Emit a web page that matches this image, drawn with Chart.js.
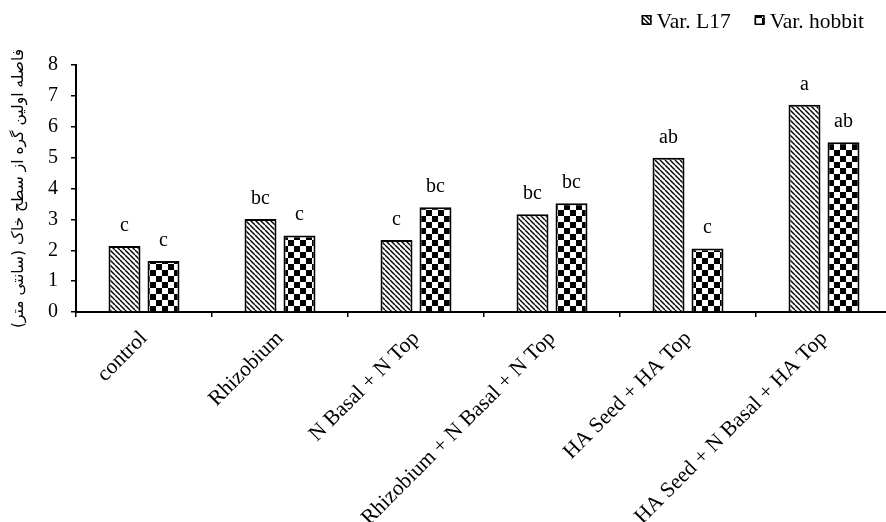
<!DOCTYPE html>
<html>
<head>
<meta charset="utf-8">
<script src="https://cdn.jsdelivr.net/npm/chart.js@4.4.1/dist/chart.umd.min.js"></script>
<style>
  html, body { margin: 0; padding: 0; overflow: hidden; background: #fff; }
  #wrap { width: 892px; height: 522px; }
</style>
</head>
<body>
<div id="wrap"><canvas id="chart"></canvas></div>
<script>
// Treatments and the two varieties
const treatments = ['control', 'Rhizobium', 'N Basal + N Top', 'Rhizobium + N Basal + N Top', 'HA Seed + HA Top', 'HA Seed + N Basal + HA Top'];
const l17Values = [2.14, 3.01, 2.33, 3.17, 5.0, 6.71];
const hobbitValues = [1.65, 2.48, 3.39, 3.52, 2.06, 5.5];
// Mean comparison letters shown above the bars
const l17Letters = ['c', 'bc', 'c', 'bc', 'ab', 'a'];
const hobbitLetters = ['c', 'c', 'bc', 'bc', 'c', 'ab'];
const seriesNames = ['Var. L17', 'Var. hobbit'];
const yTitle = 'فاصله اولین گره از سطح خاک (سانتی متر)';

const serif = '"Liberation Serif", "Times New Roman", serif';

// Diagonal hatch pattern (top-left to bottom-right)
function makeHatch() {
    const s = 5;
    const c = document.createElement('canvas');
    c.width = s; c.height = s;
    const g = c.getContext('2d');
    g.fillStyle = '#fff';
    g.fillRect(0, 0, s, s);
    g.strokeStyle = '#000';
    g.lineWidth = 1.4;
    [-s, 0, s].forEach(function (k) {
        g.beginPath();
        g.moveTo(k, 0);
        g.lineTo(k + s, s);
        g.stroke();
    });
    return g.createPattern(c, 'repeat');
}

// Checkerboard pattern
function makeChecker() {
    const q = 6;
    const c = document.createElement('canvas');
    c.width = q * 2; c.height = q * 2;
    const g = c.getContext('2d');
    g.fillStyle = '#fff';
    g.fillRect(0, 0, q * 2, q * 2);
    g.fillStyle = '#000';
    g.fillRect(0, 0, q, q);
    g.fillRect(q, q, q, q);
    return g.createPattern(c, 'repeat');
}

const hatch = makeHatch();
const checker = makeChecker();
const fills = [hatch, checker];

const ctx = document.getElementById('chart').getContext('2d');

new Chart(ctx, {
    type: 'bar',
    data: {
        labels: treatments,
        datasets: [
            {
                label: seriesNames[0],
                data: l17Values,
                backgroundColor: hatch,
                borderColor: '#000',
                borderWidth: 2,
                categoryPercentage: 0.5735,
                barPercentage: 0.82
            },
            {
                label: seriesNames[1],
                data: hobbitValues,
                backgroundColor: checker,
                borderColor: '#000',
                borderWidth: 2,
                categoryPercentage: 0.5735,
                barPercentage: 0.82
            }
        ]
    },
    options: {
        responsive: true,
        maintainAspectRatio: false,
        animation: false,
        layout: { padding: { top: 65, left: 0, right: 0, bottom: 0 } },
        plugins: {
            legend: { display: false },
            tooltip: { enabled: false }
        },
        scales: {
            x: {
                grid: {
                    drawOnChartArea: false,
                    drawTicks: true,
                    tickLength: 5,
                    color: '#000',
                    lineWidth: 1.5
                },
                border: { display: true, color: '#000', width: 2 },
                ticks: {
                    color: '#000',
                    font: { family: serif, size: 21.5 },
                    minRotation: 45,
                    maxRotation: 45,
                    autoSkip: false,
                    padding: 9
                },
                afterFit: function (scale) { scale.height = 210; }
            },
            y: {
                min: 0,
                max: 8,
                grid: {
                    drawOnChartArea: false,
                    drawTicks: true,
                    tickLength: 5,
                    color: '#000',
                    lineWidth: 1.5
                },
                border: { display: true, color: '#000', width: 2 },
                ticks: {
                    stepSize: 1,
                    color: '#000',
                    font: { family: serif, size: 20 },
                    padding: 13
                },
                title: {
                    display: true,
                    text: '\u200F' + yTitle + '\u200F',
                    color: '#000',
                    font: { family: '"DejaVu Sans", sans-serif', size: 15.5 },
                    padding: { top: 10, bottom: 0 }
                },
                afterFit: function (scale) { scale.width = 76; }
            }
        }
    },
    plugins: [{
        id: 'barLetters',
        afterDatasetsDraw: function (chart) {
            const c = chart.ctx;
            c.save();
            c.font = '20px ' + serif;
            c.fillStyle = '#000';
            c.textAlign = 'center';
            c.textBaseline = 'alphabetic';
            [l17Letters, hobbitLetters].forEach(function (letters, di) {
                chart.getDatasetMeta(di).data.forEach(function (bar, i) {
                    c.fillText(letters[i], bar.x, bar.y - 15);
                });
            });
            c.restore();
        }
    }, {
        id: 'patternLegend',
        afterDraw: function (chart) {
            const c = chart.ctx;
            c.save();
            c.font = '21.5px ' + serif;
            c.textBaseline = 'alphabetic';
            c.textAlign = 'left';
            let x = chart.width - 28;
            for (let i = seriesNames.length - 1; i >= 0; i--) {
                const w = c.measureText(seriesNames[i]).width;
                x -= w;
                c.fillStyle = '#000';
                c.fillText(seriesNames[i], x, 28);
                const bx = x - 15;
                c.fillStyle = fills[i];
                c.fillRect(bx, 15, 10, 10);
                c.strokeStyle = '#000';
                c.lineWidth = 1.5;
                c.strokeRect(bx + 0.75, 15.75, 8.5, 8.5);
                x = bx - 24;
            }
            c.restore();
        }
    }]
});
</script>
</body>
</html>
